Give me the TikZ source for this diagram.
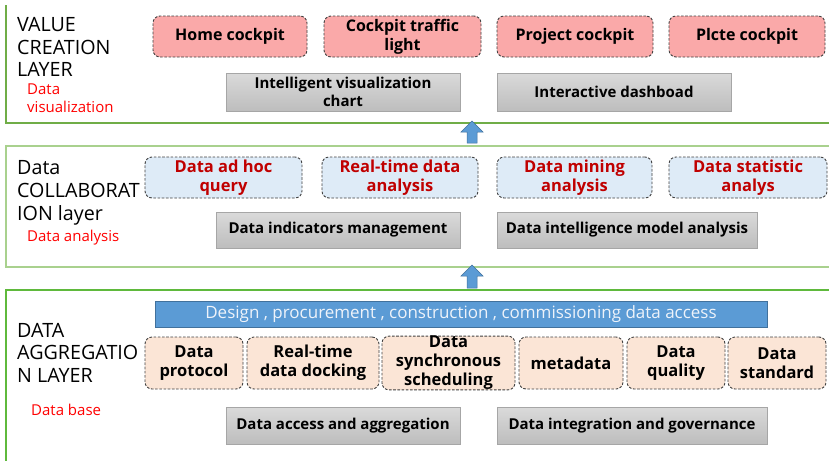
\documentclass[tikz,border=0pt]{standalone}
\usepackage{fontspec}
\setmainfont{Open Sans}

\definecolor{layergreen}{HTML}{70AD47}
\definecolor{layerlight}{HTML}{A9D18E}
\definecolor{pinkfill}{HTML}{FAA9A9}
\definecolor{bluefill}{HTML}{DEEBF7}
\definecolor{peachfill}{HTML}{FBE5D6}
\definecolor{dashgray}{HTML}{404040}
\definecolor{graytop}{HTML}{DADADA}
\definecolor{graybot}{HTML}{BDBDBD}
\definecolor{grayline}{HTML}{A6A6A6}
\definecolor{barblue}{HTML}{5B9BD5}
\definecolor{barline}{HTML}{41719C}
\definecolor{darkred}{HTML}{C00000}
\definecolor{labelred}{HTML}{FF0000}
\definecolor{bartext}{HTML}{EEF3FA}

\tikzset{
  layerline/.style={line width=1.5pt},
  size/.style 2 args={minimum width=#1pt, minimum height=#2pt},
  dashbox/.style={draw=dashgray, line width=0.9pt, dash pattern=on 2.6pt off 1.6pt,
    rounded corners=7pt, inner sep=0pt, align=center},
  pinkbox/.style={dashbox, fill=pinkfill,
    font=\fontsize{16}{19}\selectfont\bfseries},
  querybox/.style={dashbox, fill=bluefill, text=darkred,
    font=\fontsize{16.5}{19}\selectfont\bfseries},
  peachbox/.style={dashbox, fill=peachfill,
    font=\fontsize{16.5}{19}\selectfont\bfseries},
  graybox/.style={draw=grayline, line width=0.8pt, top color=graytop, bottom color=graybot,
    inner sep=0pt, align=center, font=\fontsize{15}{17.5}\selectfont\bfseries},
  titletext/.style={anchor=base west, inner sep=0pt, font=\fontsize{19.7}{22}\selectfont},
  subtext/.style={anchor=base west, inner sep=0pt, text=labelred, font=\fontsize{15}{18}\selectfont},
  uparrow/.style={fill=barblue, draw=barline, line width=0.5pt},
}

\begin{document}
\begin{tikzpicture}[x=1pt,y=-1pt]
\useasboundingbox (0,0) rectangle (829,461);

% layer frames
\draw[layerline, draw=layergreen] (829,123) -- (6,123) -- (6,5);
\draw[layerline, draw=layerlight] (829,146) -- (6,146) -- (6,267) -- (829,267);
\draw[layerline, draw=layergreen!85!green] (829,290) -- (6,290) -- (6,461);

% value creation layer
\node[titletext] (vc1) at (17,31) {VALUE};
\node[titletext] (vc2) at (17,54) {CREATION};
\node[titletext] (vc3) at (17,76) {LAYER};
\node[subtext] (vcs1) at (27,94) {Data};
\node[subtext] (vcs2) at (27,112) {visualization};

\node[pinkbox, size={154}{41}] (home) at (230,36.5) {Home cockpit};
\node[pinkbox, size={157}{41}] (traffic) at (402.5,36.5) {Cockpit traffic\\light};
\node[pinkbox, size={156}{41}] (project) at (575,36.5) {Project cockpit};
\node[pinkbox, size={156}{41}] (plcte) at (747,36.5) {Plcte cockpit};

\node[graybox, size={234}{38}] (chart) at (343,92) {Intelligent visualization\\chart};
\node[graybox, size={234}{38}] (dash) at (614,92) {Interactive dashboad};

% data collaboration layer
\node[titletext] (dc1) at (17,174) {Data};
\node[titletext] (dc2) at (17,197) {COLLABORAT};
\node[titletext] (dc3) at (17,220) {ION layer};
\node[subtext] (dcs1) at (27,241) {Data analysis};

\node[querybox, size={157}{41}] (adhoc) at (223.5,177.5) {Data ad hoc\\query};
\node[querybox, size={156}{41}] (realtime) at (400,177.5) {Real-time data\\analysis};
\node[querybox, size={155}{41}] (mining) at (574.5,177.5) {Data mining\\analysis};
\node[querybox, size={158}{41}] (statistic) at (748,177.5) {Data statistic\\analys};

\node[graybox, size={244}{36}] (indicators) at (338,230) {Data indicators management};
\node[graybox, size={260}{36}] (model) at (627,230) {Data intelligence model analysis};

% data aggregation layer
\node[titletext] (da1) at (17,337) {DATA};
\node[titletext] (da2) at (17,359) {AGGREGATIO};
\node[titletext] (da3) at (17,382) {N LAYER};
\node[subtext] (das1) at (31,415) {Data base};

\node[draw=barline, line width=0.8pt, fill=barblue, text=bartext, inner sep=0pt,
  font=\fontsize{17}{19}\selectfont, size={612}{26}] (access) at (461,314)
  {Design , procurement , construction , commissioning data access};

\node[peachbox, size={98}{52}] (protocol) at (194,363) {Data\\protocol};
\node[peachbox, size={132}{52}] (docking) at (313,363) {Real-time\\data docking};
\node[peachbox, size={133}{52}] (sync) at (448.5,363) {Data\\synchronous\\scheduling};
\node[peachbox, size={104}{52}] (meta) at (571,363) {metadata};
\node[peachbox, size={98}{52}] (quality) at (676,363) {Data\\quality};
\node[peachbox, size={98}{52}] (standard) at (777,363) {Data\\standard};

\node[graybox, size={234}{37}] (aggregation) at (343,425.5) {Data access and aggregation};
\node[graybox, size={270}{37}] (governance) at (632,425.5) {Data integration and governance};

% upward block arrows between the layers
\draw[uparrow] (472,121) -- (483,132) -- (477,132) -- (477,143) -- (467,143)
  -- (467,132) -- (461,132) -- cycle;
\draw[uparrow] (472,265) -- (483,276) -- (477,276) -- (477,288) -- (467,288)
  -- (467,276) -- (461,276) -- cycle;
\end{tikzpicture}
\end{document}
